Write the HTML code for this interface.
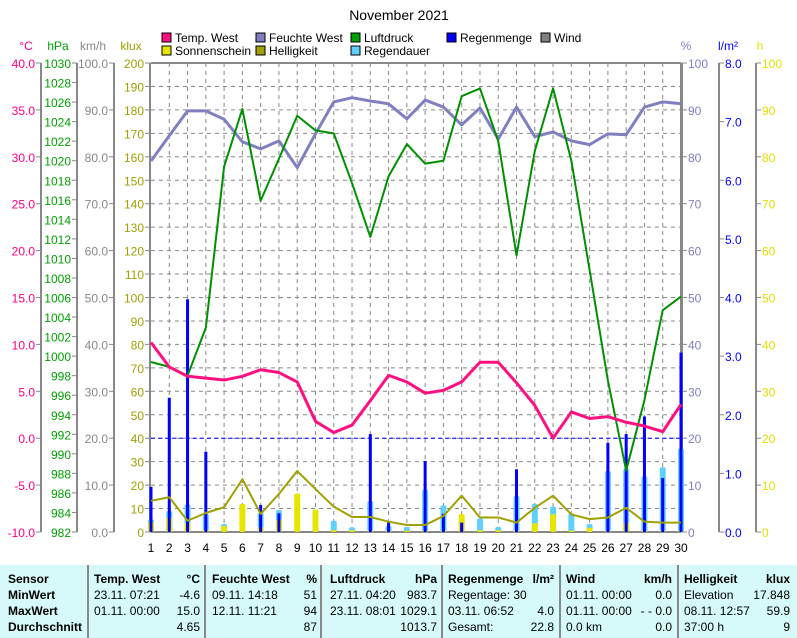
<!DOCTYPE html>
<html><head><meta charset="utf-8"><style>
body{margin:0;background:#fff;font-family:"Liberation Sans",sans-serif}
svg text{font-family:"Liberation Sans",sans-serif;font-size:12px}
#tbl{position:absolute;left:0;top:565px;width:797px;height:73px;background:#d6fafa;font-size:12px}
.col{position:absolute;top:0;height:73px;border-left:2px solid #888}
.cell{position:absolute;white-space:nowrap;line-height:16px}
.b{font-weight:bold}
</style></head><body>
<svg id="chart" width="797" height="565" style="position:absolute;left:0;top:0"></svg>
<div id="tbl"></div>
<script>
const days=[1,2,3,4,5,6,7,8,9,10,11,12,13,14,15,16,17,18,19,20,21,22,23,24,25,26,27,28,29,30];
const temp=[10.2,7.6,6.6,6.4,6.2,6.6,7.3,7.0,6.0,1.8,0.6,1.4,4.0,6.7,6.0,4.8,5.1,6.0,8.1,8.1,5.9,3.5,0.0,2.8,2.1,2.3,1.7,1.3,0.7,3.6];
const press=[999.4,998.9,998.0,1002.9,1019.4,1025.3,1015.9,1020.2,1024.6,1023.1,1022.8,1017.7,1012.2,1018.4,1021.7,1019.7,1020.0,1026.6,1027.4,1022.0,1010.3,1021.0,1027.4,1020.0,1008.8,997.5,988.3,995.5,1004.7,1006.1];
const hum=[79.1,84.5,89.8,89.8,88,83.2,81.7,83.4,77.7,84.9,91.7,92.6,91.9,91.3,88.1,92.1,90.6,86.8,90.4,83.8,90.6,84.3,85.3,83.4,82.6,84.9,84.7,90.6,91.7,91.3];
const lux=[13.3,14.8,4.8,8.1,10.6,22.5,7.7,16.2,26,18.3,10.8,6.4,6.4,4.4,3.0,3.0,6.8,15.5,6.2,6.2,4.0,10.3,15.5,7.5,5.5,6.2,10.3,4.4,4.0,4.0];
const sun=[2.2,3.1,2.0,0.5,1.3,6.0,1.1,2.7,8.2,4.8,0.4,0.4,0.3,0.3,0.3,0.3,0.3,3.8,0.4,0.4,0.3,1.9,3.8,0.3,0.9,0.3,2.0,0.3,0.3,0.3];
const rainDur=[2.7,4.5,5.9,3.8,1.7,0,4.1,4.7,0,0,2.4,1.0,6.6,1.3,1.1,9.1,5.7,0,2.9,1.1,7.7,6.0,5.4,4.0,1.7,13.0,13.5,11.9,13.8,17.8];
const rain=[0.77,2.29,3.97,1.37,0,0,0.46,0.32,0,0,0,0,1.67,0.16,0,1.21,0.31,0.16,0,0,1.07,0,0,0,0,1.52,1.67,1.97,0.92,3.06];
const tempTicks=[40,35,30,25,20,15,10,5,0,-5,-10];
const hpaTicks=[1030,1028,1026,1024,1022,1020,1018,1016,1014,1012,1010,1008,1006,1004,1002,1000,998,996,994,992,990,988,986,984,982];
const kmhTicks=[100,90,80,70,60,50,40,30,20,10,0];
const kluxTicks=[200,190,180,170,160,150,140,130,120,110,100,90,80,70,60,50,40,30,20,10,0];
const pctTicks=[100,90,80,70,60,50,40,30,20,10,0];
const lmTicks=[8,7,6,5,4,3,2,1,0];
const hTicks=[100,90,80,70,60,50,40,30,20,10,0];

const L=151,R=681,T=63,B=532,H=B-T;
const X=d=>L+(d-1)*(R-L)/29;
const Yf=f=>B-f*H;
const yT=v=>Yf((v+10)/50), yP=v=>Yf((v-982)/48), yK=v=>Yf(v/100), yL=v=>Yf(v/200), yPct=v=>Yf(v/100), yR=v=>Yf(v/8), yH=v=>Yf(v/100);
const svg=document.getElementById('chart');const NS='http://www.w3.org/2000/svg';
function mk(t,a,p){const e=document.createElementNS(NS,t);for(const k in a)e.setAttribute(k,a[k]);(p||svg).appendChild(e);return e;}
function txt(x,y,s,c,anchor){const e=mk('text',{x:x,y:y,fill:c,'text-anchor':anchor||'start'});e.textContent=s;return e;}

let e=txt(399,20,'November 2021','#000','middle');e.setAttribute('style','font-size:14px');


// grid
kluxTicks.forEach(v=>{if(v>0&&v<200){const g=mk('line',{x1:L,x2:R,y1:yL(v),y2:yL(v),stroke:'#888','stroke-dasharray':'4,4'});

}});
days.forEach(d=>{if(d>1&&d<30){const g=mk('line',{x1:X(d),x2:X(d),y1:T,y2:B,stroke:'#888','stroke-dasharray':'4,4'});

}});
// axes
function axis(name,ax,ticks,yf,col,fmt,side,unit,ux){
  const g=mk('g',{});
  
  
  mk('line',{x1:ax,x2:ax,y1:yf(ticks[0]),y2:yf(ticks[ticks.length-1]),stroke:'#888','stroke-width':2},g);
  ticks.forEach(v=>{const y=yf(v);
    if(side==='l'){mk('line',{x1:ax-5,x2:ax,y1:y,y2:y,stroke:'#888'},g);const t=txt(ax-6,y+5,fmt(v),col,'end');g.appendChild(t);}
    else{mk('line',{x1:ax,x2:ax+5,y1:y,y2:y,stroke:'#888'},g);const t=txt(ax+6,y+5,fmt(v),col,'start');g.appendChild(t);}
  });
  const u=txt(ux,50,unit,col,'middle');g.appendChild(u);
}
axis('temp-axis',41,tempTicks,yT,'#ff0080',v=>v.toFixed(1),'l','°C',26);
axis('pressure-axis',77,hpaTicks,yP,'#00a000',v=>String(v),'l','hPa',58);
axis('wind-axis',114,kmhTicks,yK,'#888',v=>v.toFixed(1),'l','km/h',93);
axis('klux-axis',150,kluxTicks,yL,'#a0a000',v=>String(v),'l','klux',131);
axis('humidity-axis',682,pctTicks,yPct,'#8080c0',v=>String(v),'r','%',686);
axis('rain-axis',719,lmTicks,yR,'#0000ff',v=>v.toFixed(1),'r','l/m²',728);
axis('sun-axis',756,hTicks,yH,'#e0e000',v=>String(v),'r','h',760);
mk('line',{x1:L,x2:R,y1:T,y2:T,stroke:'#888','stroke-width':2});
mk('line',{x1:L,x2:R,y1:B,y2:B,stroke:'#888','stroke-width':2});
mk('line',{x1:R,x2:R,y1:T,y2:B,stroke:'#888','stroke-width':2});
days.forEach(d=>{const t=txt(X(d),552,String(d),'#000','middle');

});
// zero line
const z=mk('line',{x1:L,x2:R,y1:yT(0),y2:yT(0),stroke:'#0000ff','stroke-dasharray':'4,3'});


// bars
days.forEach((d,i)=>{
  if(rainDur[i]>0){const r=mk('rect',{x:X(d)-3,y:yH(rainDur[i]),width:6,height:B-yH(rainDur[i]),fill:'#60d0ff',rx:2});
  
  }
  if(sun[i]>0){const r=mk('rect',{x:X(d)-3,y:yH(sun[i]),width:6,height:B-yH(sun[i]),fill:'#e6e600',rx:2});
  
  }
});
days.forEach((d,i)=>{if(rain[i]>0){const r=mk('rect',{x:X(d)-1.5,y:yR(rain[i]),width:3,height:B-yR(rain[i]),fill:'#0000ff'});

}});
// lines
function line(name,arr,yf,col,w){const p=mk('polyline',{points:arr.map((v,i)=>X(days[i])+','+yf(v)).join(' '),fill:'none',stroke:col,'stroke-width':w,'stroke-linejoin':'round'});

}
line('line-brightness',lux,yL,'#a0a000',2);
line('line-humidity',hum,yPct,'#8080c0',3);
line('line-pressure',press,yP,'#009000',2);
line('line-temperature',temp,yT,'#ff1080',3);
// legend
const leg=[['Temp. West','#ff1080',162,38],['Feuchte West','#8080c0',256,38],['Luftdruck','#00a000',351,38],['Regenmenge','#0000ff',447,38],['Wind','#808080',541,38],['Sonnenschein','#e6e600',162,51],['Helligkeit','#a0a000',256,51],['Regendauer','#60d0ff',351,51]];
leg.forEach(l=>{const g=mk('g',{});


mk('rect',{x:l[2],y:l[3]-5,width:9,height:9,fill:l[1],stroke:'#000'},g);g.appendChild(txt(l[2]+13,l[3]+4,l[0],'#000'));});
// table
const tb=document.getElementById('tbl');
[87,204,320,441,559,677].forEach(x=>{const c=document.createElement('div');c.className='col';c.style.left=x+'px';

tb.appendChild(c);});
const rowsY=[6,22,38,54];
const cells=[
[8,'l',['Sensor','MinWert','MaxWert','Durchschnitt'],1],
[94,'l',['Temp. West','23.11.  07:21','01.11.  00:00',''],0],
[200,'r',['°C','-4.6','15.0','4.65'],0],
[212,'l',['Feuchte West','09.11.  14:18','12.11.  11:21',''],0],
[317,'r',['%','51','94','87'],0],
[330,'l',['Luftdruck','27.11.  04:20','23.11.  08:01',''],0],
[437,'r',['hPa','983.7','1029.1','1013.7'],0],
[448,'l',['Regenmenge','Regentage: 30','03.11.  06:52','Gesamt:'],0],
[554,'r',['l/m²','','4.0','22.8'],0],
[566,'l',['Wind','01.11.  00:00','01.11.  00:00','0.0 km'],0],
[672,'r',['km/h','0.0','- - 0.0','0.0'],0],
[684,'l',['Helligkeit','Elevation','08.11.  12:57','37:00 h'],0],
[790,'r',['klux','17.848','59.9','9'],0]];
cells.forEach(c=>{c[2].forEach((s,i)=>{const d=document.createElement('div');d.className='cell'+((c[3]||i===0)?' b':'');
d.style.top=rowsY[i]+'px';if(c[1]==='l')d.style.left=c[0]+'px';else d.style.right=(797-c[0])+'px';d.textContent=s;

tb.appendChild(d);});});
</script>
</body></html>
